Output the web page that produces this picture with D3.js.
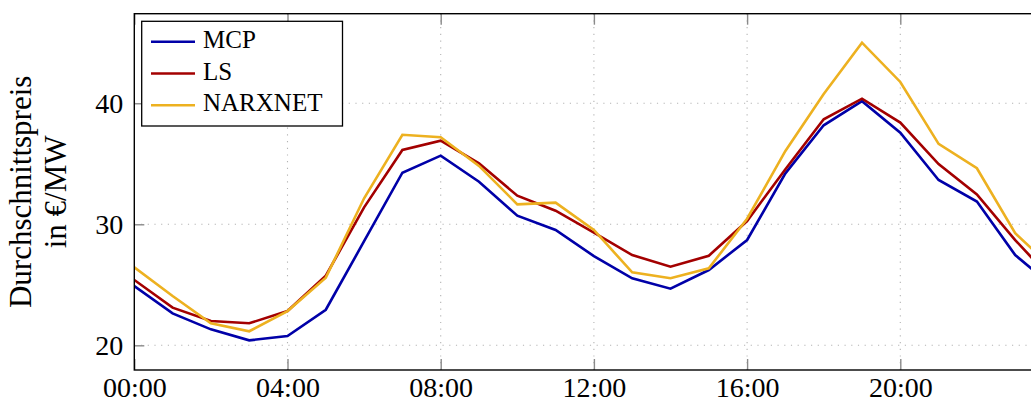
<!DOCTYPE html>
<html>
<head>
<meta charset="utf-8">
<script src="https://cdn.jsdelivr.net/npm/d3@7"></script>
<style>
  body { margin: 0; background: #fff; }
  svg { display: block; font-family: "Liberation Serif", "Times New Roman", serif; }
</style>
</head>
<body>
<svg width="1031" height="403"></svg>
<script>
const hours = [0, 1, 2, 3, 4, 5, 6, 7, 8, 9, 10, 11, 12, 13, 14, 15, 16, 17, 18, 19, 20, 21, 22, 23, 24];
const mcp = [24.9, 22.64, 21.32, 20.41, 20.77, 22.94, 28.6, 34.26, 35.67, 33.52, 30.71, 29.53, 27.37, 25.54, 24.68, 26.22, 28.7, 34.21, 38.18, 40.17, 37.57, 33.66, 31.88, 27.46, 24.8];
const ls = [25.4, 23.11, 22.01, 21.82, 22.83, 25.75, 31.4, 36.14, 36.91, 35.04, 32.36, 31.12, 29.31, 27.46, 26.5, 27.4, 30.27, 34.55, 38.68, 40.38, 38.4, 34.98, 32.46, 28.7, 25.3];
const narx = [26.45, 24.07, 21.82, 21.16, 22.83, 25.59, 32.15, 37.4, 37.19, 34.82, 31.65, 31.79, 29.53, 26.03, 25.54, 26.36, 30.46, 36.06, 40.77, 45.01, 41.76, 36.64, 34.63, 29.26, 26.3];
const seriesNames = ["MCP", "LS", "NARXNET"];
const xTicks = [0, 4, 8, 12, 16, 20];
const yTicks = [20, 30, 40];
const yLabel = ["Durchschnittspreis", "in €/MW"];

const colors = ["#0000a8", "#a30000", "#edb120"];
const series = [mcp, ls, narx].map((vals, i) => ({
	name: seriesNames[i],
	color: colors[i],
	values: vals.map((v, j) => ({ h: hours[j], v: v }))
}));

const svg = d3.select("svg");
const pLeft = 134.3, pRight = 1053.5, pTop = 13.7, pBottom = 370;

const x = d3.scaleLinear().domain([0, 24]).range([pLeft, pRight]);
const y = d3.scaleLinear().domain([17.96, 47.4]).range([pBottom, pTop]);

svg.append("clipPath").attr("id", "plotclip")
	.append("rect").attr("x", pLeft).attr("y", pTop)
	.attr("width", pRight - pLeft).attr("height", pBottom - pTop);

// grid
const grid = svg.append("g")
	.attr("stroke", "#b4b4b4").attr("stroke-width", 1.1)
	.attr("stroke-dasharray", "1.2,5.5");
grid.selectAll(".gx").data(xTicks.filter((d) => d > 0)).join("line")
	.attr("x1", (d) => x(d)).attr("x2", (d) => x(d))
	.attr("y1", pTop).attr("y2", pBottom);
grid.selectAll(".gy").data(yTicks).join("line")
	.attr("x1", pLeft).attr("x2", pRight)
	.attr("y1", (d) => y(d)).attr("y2", (d) => y(d));

// lines
const line = d3.line().x((d) => x(d.h)).y((d) => y(d.v));
svg.append("g").attr("clip-path", "url(#plotclip)")
	.selectAll("path").data(series).join("path")
	.attr("d", (d) => line(d.values))
	.attr("fill", "none")
	.attr("stroke", (d) => d.color)
	.attr("stroke-width", 2.6)
	.attr("stroke-linejoin", "miter");

// axes with inward ticks
const fmt = (d) => String(d).padStart(2, "0") + ":00";
const styleAxis = (g) => {
	g.select(".domain").remove();
	g.selectAll(".tick line").attr("stroke", "#8a8a8a").attr("stroke-width", 1.4);
	g.selectAll(".tick text").attr("fill", "#000");
};
svg.append("g").attr("transform", `translate(0,${pBottom})`)
	.call(d3.axisBottom(x).tickValues(xTicks).tickFormat(fmt).tickSizeInner(-11).tickSizeOuter(0).tickPadding(7))
	.attr("font-family", null).attr("font-size", 28)
	.call(styleAxis);
svg.append("g").attr("transform", `translate(0,${pTop})`)
	.call(d3.axisTop(x).tickValues(xTicks).tickFormat("").tickSizeInner(-11).tickSizeOuter(0))
	.call(styleAxis);
svg.append("g").attr("transform", `translate(${pLeft},0)`)
	.call(d3.axisLeft(y).tickValues(yTicks).tickSizeInner(-10).tickSizeOuter(0).tickPadding(11))
	.attr("font-family", null).attr("font-size", 28)
	.call(styleAxis);

// frame
svg.append("rect")
	.attr("x", pLeft).attr("y", pTop)
	.attr("width", pRight - pLeft).attr("height", pBottom - pTop)
	.attr("fill", "none").attr("stroke", "#000").attr("stroke-width", 1.4);

// y label
const yl = svg.append("text")
	.attr("transform", `translate(0,${(pTop + pBottom) / 2}) rotate(-90)`)
	.attr("text-anchor", "middle").attr("font-size", 31);
yl.append("tspan").attr("x", 0).attr("y", 31).text(yLabel[0]);
yl.append("tspan").attr("x", 0).attr("y", 66).text(yLabel[1]);

// legend
const lg = svg.append("g");
lg.append("rect")
	.attr("x", 141.7).attr("y", 21.3).attr("width", 200.8).attr("height", 104.7)
	.attr("fill", "#fff").attr("stroke", "#000").attr("stroke-width", 1.3);
const items = lg.selectAll(".item").data(series).join("g")
	.attr("transform", (d, i) => `translate(0,${41.7 + i * 31.8})`);
items.append("line")
	.attr("x1", 151).attr("x2", 195)
	.attr("stroke", (d) => d.color).attr("stroke-width", 2.6);
items.append("text")
	.attr("x", 203).attr("y", 6)
	.attr("font-size", 25)
	.text((d) => d.name);
</script>
</body>
</html>
